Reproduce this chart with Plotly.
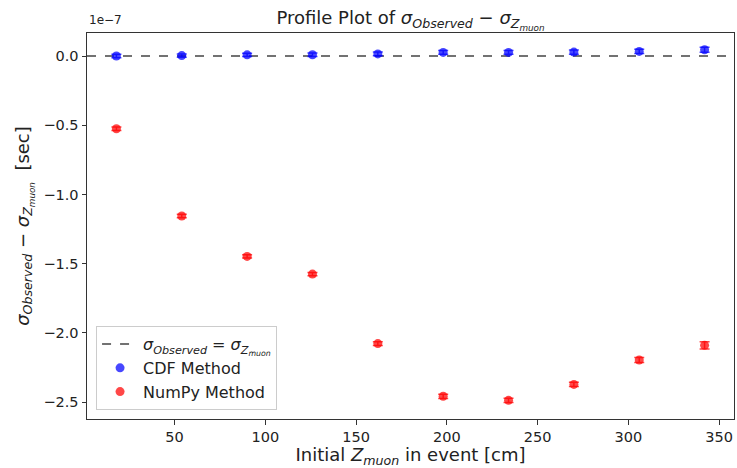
import plotly.graph_objects as go

# Data (values in units of 1e-7 s)
z_centers = [18, 54, 90, 126, 162, 198, 234, 270, 306, 342]
cdf_vals = [0.001, 0.004, 0.009, 0.010, 0.016, 0.027, 0.027, 0.029, 0.034, 0.046]
cdf_err = [0.012, 0.012, 0.012, 0.012, 0.013, 0.014, 0.014, 0.015, 0.016, 0.018]
numpy_vals = [-0.525, -1.155, -1.447, -1.575, -2.077, -2.458, -2.487, -2.372, -2.196, -2.090]
numpy_err = [0.012, 0.012, 0.012, 0.012, 0.014, 0.015, 0.015, 0.016, 0.018, 0.026]
x_ticks = [50, 100, 150, 200, 250, 300, 350]
y_ticks = [0, -0.5, -1.0, -1.5, -2.0, -2.5]

FONT = "DejaVu Sans"
BLUE = "rgba(0,0,255,0.72)"
RED = "rgba(255,0,0,0.72)"
TXT = "#222222"

fig = go.Figure()

# legend entry for reference line
fig.add_trace(go.Scatter(
    x=[None], y=[None], mode="lines",
    line=dict(color="#444444", width=1.5, dash="dash"),
    name="<i>σ</i><sub><i>Observed</i></sub> = <i>σ</i><sub><i>Z<sub>muon</sub></i></sub>",
))

fig.add_trace(go.Scatter(
    x=z_centers, y=cdf_vals, mode="markers", name="CDF Method",
    marker=dict(color=BLUE, size=9),
    error_y=dict(type="data", array=cdf_err, color=BLUE, thickness=1.5, width=5),
))
fig.add_trace(go.Scatter(
    x=z_centers, y=numpy_vals, mode="markers", name="NumPy Method",
    marker=dict(color=RED, size=9),
    error_y=dict(type="data", array=numpy_err, color=RED, thickness=1.5, width=5),
))

fig.add_shape(type="line", xref="x domain", x0=0, x1=1, yref="y", y0=0, y1=0,
              line=dict(color="#444444", width=1.5, dash="dash"), layer="below")

axis_common = dict(
    showgrid=False, zeroline=False, showline=True, linecolor="#333333", linewidth=1,
    mirror=True, ticks="outside", ticklen=4.5, tickcolor="#333333", tickwidth=1,
    tickfont=dict(family=FONT, size=14.5, color=TXT),
)

fig.update_layout(
    width=737, height=468,
    margin=dict(l=87, r=3, t=33, b=49),
    paper_bgcolor="white", plot_bgcolor="white",
    font=dict(family=FONT, color=TXT),
    title=dict(
        text="Profile Plot of <i>σ</i><sub><i>Observed</i></sub> − <i>σ</i><sub><i>Z<sub>muon</sub></i></sub>",
        x=410.5 / 737, xanchor="center", y=0.975, yanchor="top",
        font=dict(family=FONT, size=18, color=TXT),
    ),
    xaxis=dict(
        **axis_common, range=[1.8, 358.2], tickvals=x_ticks,
        title=dict(text="Initial <i>Z</i><sub><i>muon</i></sub> in event [cm]",
                   font=dict(family=FONT, size=18, color=TXT), standoff=5),
    ),
    yaxis=dict(
        **axis_common, range=[-2.622, 0.167], tickvals=y_ticks,
        tickformat=".1f",
        title=dict(text="<i>σ</i><sub><i>Observed</i></sub> − <i>σ</i><sub><i>Z<sub>muon</sub></i></sub>  [sec]",
                   font=dict(family=FONT, size=18, color=TXT), standoff=9),
    ),
    legend=dict(
        x=0.014, y=0.023, xanchor="left", yanchor="bottom",
        bgcolor="rgba(255,255,255,0.85)", bordercolor="#cccccc", borderwidth=1,
        font=dict(family=FONT, size=16, color=TXT),
        tracegroupgap=0, itemwidth=36,
    ),
    showlegend=True,
)

fig.add_annotation(text="1e−7", xref="paper", yref="paper", x=0, y=1.0,
                   xanchor="left", yanchor="bottom", showarrow=False,
                   font=dict(family=FONT, size=12, color=TXT), yshift=4)

fig.write_html("out.html")
